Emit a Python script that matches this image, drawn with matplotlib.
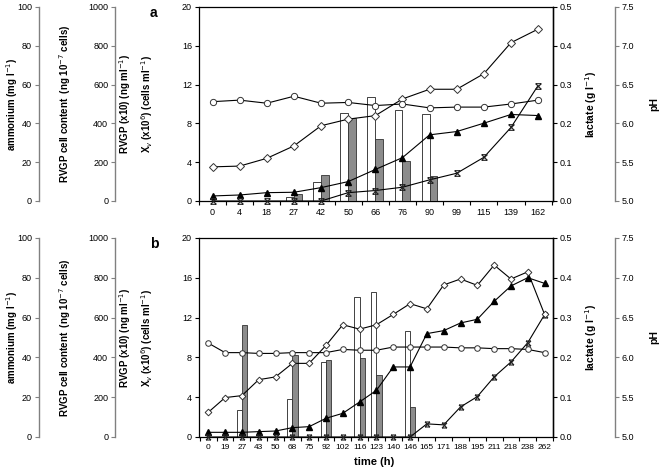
import matplotlib
matplotlib.use('Agg')
import matplotlib.pyplot as plt
import numpy as np
from matplotlib.path import Path

plt.rcParams['font.family'] = ['Liberation Sans', 'DejaVu Sans']

# ---- panel a ----
time_a = ['0', '4', '18', '27', '42', '50', '66', '76', '90', '99', '115', '139', '162']
ph_a = [6.28, 6.30, 6.26, 6.35, 6.26, 6.27, 6.23, 6.25, 6.20, 6.21, 6.21, 6.25, 6.30]
lactate_a = [0.088, 0.090, 0.110, 0.142, 0.194, 0.211, 0.220, 0.263, 0.288, 0.288, 0.328, 0.408, 0.443]
xv_a = [0.52, 0.62, 0.86, 0.90, 1.38, 2.0, 3.25, 4.47, 6.82, 7.16, 8.02, 8.92, 8.81]
ammonium_a = [0, 0, 0, 0, 0, 4.3, 5.4, 7.1, 10.9, 14.3, 22.5, 37.9, 59.5]
rvgp_a = [0, 0, 0, 0.38, 2.0, 9.05, 10.7, 9.36, 8.95, 0, 0, 0, 0]
cell_a = [0, 0, 0, 38, 136, 429, 319, 205, 131, 0, 0, 0, 0]

# ---- panel b ----
time_b = ['0', '19', '27', '43', '50', '68', '75', '92', '102', '116', '123', '140', '146',
          '165', '171', '188', '195', '211', '218', '238', '262']
ph_b = [6.18, 6.06, 6.06, 6.05, 6.05, 6.06, 6.06, 6.06, 6.10, 6.09, 6.09, 6.13, 6.13,
        6.13, 6.13, 6.12, 6.12, 6.11, 6.11, 6.10, 6.06]
lactate_b = [0.062, 0.099, 0.104, 0.144, 0.151, 0.185, 0.185, 0.230, 0.282, 0.271, 0.282, 0.308, 0.335,
             0.322, 0.382, 0.397, 0.381, 0.432, 0.397, 0.415, 0.308]
xv_b = [0.47, 0.47, 0.47, 0.54, 0.60, 0.94, 1.04, 1.88, 2.38, 3.52, 4.69, 7.04, 7.04,
        10.39, 10.69, 11.46, 11.83, 13.63, 15.18, 16.01, 15.44]
ammonium_b = [0, 0, 0, 0, 0, 0, 0, 0, 0, 0, 0, 0, 0,
              6.6, 6.1, 15.1, 20.3, 30.2, 37.7, 47.4, 61.5]
rvgp_b = [0, 0, 2.68, 0, 0, 3.79, 0, 7.54, 0, 14.1, 14.54, 0, 10.69,
          0, 0, 0, 0, 0, 0, 0, 0]
cell_b = [0, 0, 563, 0, 0, 411, 0, 389, 0, 395, 310, 0, 149,
          0, 0, 0, 0, 0, 0, 0, 0]

W, H = 660, 470
fig = plt.figure(figsize=(6.6, 4.7), dpi=100)

GREY = '#808080'
cross = Path([(-1, -1), (1, 1), (-1, 1), (1, -1), (-1, 1), (1, 1), (-1, -1), (1, -1)],
             [Path.MOVETO, Path.LINETO] * 4)


def px_rect(left, top, right, bottom):
    return [left / W, 1 - bottom / H, (right - left) / W, (bottom - top) / H]


def side_axis(ax, ylim, ticks, fmt, side, pos, color=GREY):
    t = ax.twinx()
    t.set_ylim(*ylim)
    for s in t.spines.values():
        s.set_visible(False)
    t.patch.set_visible(False)
    if side is None:
        t.set_yticks([])
        return t
    sp = t.spines[side]
    sp.set_visible(True)
    sp.set_position(('axes', pos))
    sp.set_color(color)
    sp.set_linewidth(1.0)
    t.yaxis.set_ticks_position(side)
    t.yaxis.set_label_position(side)
    t.set_yticks(ticks)
    t.set_yticklabels([fmt.format(v) for v in ticks])
    t.tick_params(axis='y', direction='out', length=3, width=0.8, color=color,
                  labelsize=6.5, pad=2)
    return t


def draw_panel(rect, times, ph, lactate, xv, ammonium, rvgp, cell, letter, xlim, bw, ms, xfs):
    n = len(times)
    x = np.arange(n)
    rvgp = np.array(rvgp, dtype=float)
    cell = np.array(cell, dtype=float)
    top_px = (1 - rect[1] - rect[3]) * H
    mid_y = rect[1] + rect[3] / 2

    ax = fig.add_axes(rect)
    ax.set_xlim(*xlim)
    ax.set_ylim(0, 20)
    ax.set_yticks([0, 4, 8, 12, 16, 20])
    ax.tick_params(axis='y', direction='out', length=3, width=0.8, labelsize=6.5, pad=2)
    ax.set_xticks(x)
    ax.set_xticklabels(times)
    ax.tick_params(axis='x', which='major', length=0, labelsize=xfs, pad=5)
    ax.set_xticks(np.arange(-0.5, n, 1), minor=True)
    ax.tick_params(axis='x', which='minor', direction='out', length=3, width=0.8)
    for s in ax.spines.values():
        s.set_linewidth(0.9)

    # RVGP (white bars)
    m = rvgp > 0
    ax.bar(x[m] - bw / 2, rvgp[m], width=bw, color='white', edgecolor='#222222', linewidth=0.6)

    ax.set_ylabel("RVGP (x10) (ng ml$^{-1}$)\nX$_v$ (x10$^6$) (cells ml$^{-1}$)",
                  fontsize=7, fontweight='bold', linespacing=1.5)
    ax.yaxis.set_label_coords(-0.124, 0.5)

    # RVGP cell content (grey bars)
    ax_cell = side_axis(ax, (0, 1000), [0, 200, 400, 600, 800, 1000], '{:d}', 'left', -0.237)
    m = cell > 0
    ax_cell.bar(x[m] + bw / 2, cell[m], width=bw, color='#8c8c8c', edgecolor='#333333', linewidth=0.6)
    ax_cell.set_ylabel('RVGP cell content  (ng 10$^{-7}$ cells)', fontsize=7, fontweight='bold')
    ax_cell.yaxis.set_label_coords(-0.356, 0.5)

    # viable cells
    ax_xv = side_axis(ax, (0, 20), None, None, None, None)
    ax_xv.plot(x, xv, color='black', lw=0.8, marker='^', ms=ms, mfc='black', mec='black',
               clip_on=False)

    # ammonium
    ax_amm = side_axis(ax, (0, 100), [0, 20, 40, 60, 80, 100], '{:d}', 'left', -0.452)
    ax_amm.plot(x, ammonium, color='black', lw=0.8, marker=cross, ms=ms * 0.9, mfc='none',
                mec='#222222', mew=0.8, clip_on=False)
    ax_amm.set_ylabel('ammonium (mg l$^{-1}$)', fontsize=7, fontweight='bold')
    ax_amm.yaxis.set_label_coords(-0.506, 0.5)

    # lactate
    ax_lac = side_axis(ax, (0, 0.5), [0.0, 0.1, 0.2, 0.3, 0.4, 0.5], '{:.1f}', 'right', 1.0,
                       color='black')
    ax_lac.plot(x, lactate, color='black', lw=0.8, marker='D', ms=ms * 0.85, mfc='white',
                mec='#333333', mew=0.7, clip_on=False)
    fig.text(591 / W, mid_y, 'lactate (g l$^{-1}$)', fontsize=7.5, fontweight='bold',
             rotation=90, ha='center', va='center')

    # pH
    ax_ph = side_axis(ax, (5.0, 7.5), [5.0, 5.5, 6.0, 6.5, 7.0, 7.5], '{:.1f}', 'right', 1.175)
    ax_ph.plot(x, ph, color='black', lw=0.8, marker='o', ms=ms, mfc='white',
               mec='#333333', mew=0.7, clip_on=False)
    fig.text(654 / W, mid_y, 'pH', fontsize=7.5, fontweight='bold',
             rotation=90, ha='center', va='center')

    fig.text(150 / W, 1 - (top_px + 6) / H, letter, fontsize=10, fontweight='bold',
             ha='left', va='center')
    return ax


draw_panel(px_rect(199, 7, 553, 201), time_a, ph_a, lactate_a, xv_a, ammonium_a, rvgp_a, cell_a,
           'a', (-0.47, 12.55), 0.29, 4.5, 6.5)
draw_panel(px_rect(199, 238, 553, 437), time_b, ph_b, lactate_b, xv_b, ammonium_b, rvgp_b, cell_b,
           'b', (-0.55, 20.5), 0.32, 4.0, 6.0)

fig.text(374 / W, 1 - 462 / H, 'time (h)', fontsize=8, fontweight='bold', ha='center', va='center')

fig.savefig('out.png', dpi=100)
